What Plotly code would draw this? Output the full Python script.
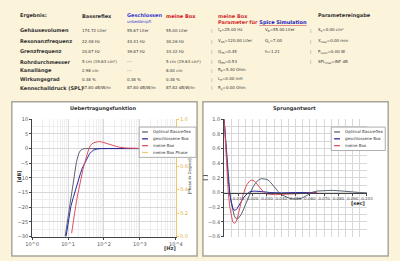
import plotly.graph_objects as go

# ---------------- data ----------------
row_labels = ["Gehäusevolumen", "Resonanzfrequenz", "Grenzfrequenz", "Rohrdurchmesser",
              "Kanallänge", "Wirkungsgrad", "Kennschalldruck (SPL)"]
bassreflex_vals = ["174.72 Liter", "22.48 Hz", "20.87 Hz", "5 cm (19.63 cm²)",
                   "2.98 cm", "0.38 %", "87.80 dB/W/m"]
geschlossen_vals = ["55.67 Liter", "44.41 Hz", "39.87 Hz", "---", "---", "0.38 %", "87.80 dB/W/m"]
meinebox_vals = ["55.00 Liter", "30.26 Hz", "33.32 Hz", "5 cm (19.63 cm²)",
                 "8.00 cm", "0.38 %", "87.82 dB/W/m"]
spice_col1 = ["f<sub>S</sub>=25.00 Hz", "V<sub>AS</sub>=120.00 Liter", "Q<sub>TS</sub>=0.45",
              "Q<sub>ES</sub>=0.53", "R<sub>E</sub>=5.30 Ohm", "L<sub>E</sub>=0.00 mH",
              "R<sub>g</sub>=0.00 Ohm"]
spice_col2 = ["V<sub>B</sub>=55.00 Liter", "Q<sub>L</sub>=7.00", "h=1.21"]
param_col = ["S<sub>d</sub>=0.00 cm²", "X<sub>max</sub>=0.00 mm",
             "P<sub>nenn</sub>=0.00 W", "SPL<sub>max</sub>=INF dB"]

series_names = ["Optimal Bassreflex", "geschlossene Box", "meine Box", "meine Box Phase"]

# frequency response (Hz, dB)
f_opt = [8.3, 9, 10, 11, 12, 13, 14, 15, 16, 17, 18, 19, 20, 22, 25, 30, 50, 100, 300, 1000]
db_opt = [-30, -27, -23.5, -19.5, -16, -13, -10.8, -8.5, -6.5, -4.8, -3.5, -2.4, -1.6, -0.7,
          -0.2, 0, 0, 0, 0, 0]
f_cls = [8.8, 10, 11, 12, 14, 16, 18, 20, 22, 25, 28, 32, 36, 40, 45, 50, 60, 80, 1000]
db_cls = [-30, -25.5, -22.3, -19.7, -16.7, -14.1, -11.8, -9.9, -8.6, -6.6, -5.3, -3.8, -2.4,
          -1.7, -1.1, -0.6, -0.2, 0, 0]
f_my = [12.6, 14, 16, 18, 20, 23.4, 26, 28.8, 32, 35, 38, 42, 46, 52, 60, 70, 85, 100, 136,
        180, 255, 400, 600, 1000]
db_my = [-28.9, -24.5, -20.3, -16.5, -13.5, -10, -7.2, -5, -3, -1.3, 0, 1.0, 1.6, 2.0, 2.3,
         2.4, 2.3, 2.0, 1.5, 1.0, 0.5, 0.2, 0.1, 0.05]

# step response (s, -)
t_opt = [0, 0.001, 0.002, 0.003, 0.004, 0.005, 0.006, 0.007, 0.008, 0.009, 0.010, 0.012, 0.014,
         0.016, 0.018, 0.020, 0.022, 0.024, 0.026, 0.028, 0.030, 0.032, 0.034, 0.036, 0.038,
         0.040, 0.043, 0.046, 0.050, 0.054, 0.058, 0.061, 0.065, 0.070, 0.075, 0.080, 0.085,
         0.090, 0.095, 0.100]
s_opt = [1.0, 0.75, 0.45, 0.2, 0.0, -0.14, -0.24, -0.31, -0.35, -0.36, -0.35, -0.3, -0.21,
         -0.11, -0.01, 0.07, 0.13, 0.17, 0.19, 0.19, 0.18, 0.15, 0.1, 0.05, 0.01, -0.03, -0.06,
         -0.08, -0.09, -0.08, -0.04, 0.0, 0.02, 0.03, 0.03, 0.025, 0.015, 0.005, 0.0, -0.005]
t_cls = [0, 0.001, 0.002, 0.003, 0.004, 0.005, 0.006, 0.007, 0.008, 0.009, 0.010, 0.012, 0.014,
         0.016, 0.018, 0.021, 0.024, 0.028, 0.032, 0.036, 0.040, 0.050, 0.065]
s_cls = [1.0, 0.7, 0.4, 0.15, -0.03, -0.14, -0.21, -0.24, -0.24, -0.22, -0.19, -0.12, -0.06,
         -0.02, 0.01, 0.02, 0.02, 0.01, 0.0, -0.005, -0.005, 0.0, 0.0]
t_my = [0, 0.001, 0.002, 0.003, 0.004, 0.005, 0.006, 0.007, 0.008, 0.009, 0.010, 0.011, 0.012,
        0.013, 0.014, 0.015, 0.016, 0.017, 0.018, 0.019, 0.020, 0.021, 0.022, 0.024, 0.026,
        0.028, 0.030, 0.033, 0.036, 0.040, 0.045, 0.050, 0.055, 0.060, 0.065]
s_my = [1.0, 0.6, 0.25, -0.02, -0.2, -0.33, -0.4, -0.42, -0.41, -0.37, -0.3, -0.22, -0.13,
        -0.05, 0.02, 0.07, 0.11, 0.14, 0.16, 0.17, 0.17, 0.16, 0.14, 0.09, 0.04, 0.0, -0.02,
        -0.03, -0.03, -0.025, -0.02, -0.015, -0.01, -0.01, -0.005]

freq_ticks = [1, 10, 100, 1000, 10000]
freq_ticktext = ["10^0", "10^1", "10^2", "10^3", "10^4"]
time_ticks = [0.01, 0.02, 0.03, 0.04, 0.05, 0.06, 0.07, 0.08, 0.09, 0.10]

# ---------------- style ----------------
W, H = 400, 261
def PX(x): return x / W
def PY(y): return 1 - y / H

C_OPT = "#5b6272"
C_CLS = "#2b2b9c"
C_MY = "#e0505e"
C_PH = "#f0c870"
BG = "#fcf4da"
FONT = "DejaVu Sans"
GRID = "#d8d8d8"
MINOR = "#eeeeee"

fig = go.Figure()
fig.add_trace(go.Scatter(x=f_opt, y=db_opt, mode="lines", line=dict(color=C_OPT, width=1),
                         name=series_names[0], xaxis="x", yaxis="y", showlegend=False))
fig.add_trace(go.Scatter(x=f_cls, y=db_cls, mode="lines", line=dict(color=C_CLS, width=1),
                         name=series_names[1], xaxis="x", yaxis="y", showlegend=False))
fig.add_trace(go.Scatter(x=f_my, y=db_my, mode="lines", line=dict(color=C_MY, width=1),
                         name=series_names[2], xaxis="x", yaxis="y", showlegend=False))
fig.add_trace(go.Scatter(x=[], y=[], mode="lines", line=dict(color=C_PH, width=1),
                         name=series_names[3], xaxis="x", yaxis="y3", showlegend=False))

fig.add_trace(go.Scatter(x=t_opt, y=s_opt, mode="lines", line=dict(color=C_OPT, width=1),
                         name=series_names[0], xaxis="x2", yaxis="y2", showlegend=False))
fig.add_trace(go.Scatter(x=t_cls, y=s_cls, mode="lines", line=dict(color=C_CLS, width=1),
                         name=series_names[1], xaxis="x2", yaxis="y2", showlegend=False))
fig.add_trace(go.Scatter(x=t_my, y=s_my, mode="lines", line=dict(color=C_MY, width=1),
                         name=series_names[2], xaxis="x2", yaxis="y2", showlegend=False))

ydom = [PY(239), PY(119)]
tickfont = dict(family=FONT, size=5, color="#555")
minor_log = [k * 10 ** d for d in range(4) for k in range(2, 10)]

fig.update_layout(
    width=W, height=H, margin=dict(l=0, r=0, t=0, b=0, pad=0),
    paper_bgcolor=BG, plot_bgcolor="white", showlegend=False,
    xaxis=dict(domain=[PX(26), PX(175)], anchor="y", type="log", range=[0, 4],
               tickvals=freq_ticks, ticktext=freq_ticktext, tickfont=tickfont,
               showline=True, linecolor="#444", linewidth=1, ticks="outside", ticklen=2,
               tickcolor="#444", showgrid=True, gridcolor=GRID, gridwidth=0.6,
               minor=dict(tickvals=minor_log, showgrid=True, gridcolor=MINOR, gridwidth=0.5),
               zeroline=False),
    yaxis=dict(domain=ydom, anchor="x", range=[-30, 10], dtick=5, tickfont=tickfont,
               showline=True, linecolor="#444", linewidth=1, ticks="outside", ticklen=2,
               tickcolor="#444", showgrid=True, gridcolor=GRID, gridwidth=0.6,
               minor=dict(dtick=2.5, showgrid=True, gridcolor=MINOR, gridwidth=0.5),
               zeroline=False),
    yaxis3=dict(overlaying="y", anchor="x", side="right", range=[0, 1], dtick=0.2,
                tickformat=".1f", tickfont=dict(family=FONT, size=5, color="#e0b040"),
                showline=True, linecolor=C_PH, linewidth=1, ticks="outside", ticklen=2,
                tickcolor=C_PH, showgrid=False, zeroline=False),
    xaxis2=dict(domain=[PX(225), PX(373)], anchor="free", position=PY(194), range=[0, 0.1],
                tickvals=time_ticks, tickformat=".3f", tickfont=dict(family=FONT, size=4, color="#555"),
                showline=True, linecolor="#444", linewidth=1, ticks="outside", ticklen=2,
                tickcolor="#444", showgrid=True, gridcolor=GRID, gridwidth=0.6,
                minor=dict(dtick=0.005, tick0=0, showgrid=True, gridcolor=GRID, gridwidth=0.6),
                zeroline=False),
    yaxis2=dict(domain=ydom, anchor="x2", range=[-0.6, 1.0], dtick=0.2, tickformat=".1f",
                tickfont=tickfont, showline=True, linecolor="#444", linewidth=1,
                ticks="outside", ticklen=2, tickcolor="#444", showgrid=True, gridcolor=GRID,
                gridwidth=0.6, minor=dict(dtick=0.1, showgrid=True, gridcolor=GRID, gridwidth=0.6),
                zeroline=False),
)

shapes = []
# panels
for (x0, x1) in [(5, 197), (203, 395)]:
    shapes.append(dict(type="rect", xref="paper", yref="paper", x0=PX(x0), x1=PX(x1),
                       y0=PY(259), y1=PY(101), fillcolor="white",
                       line=dict(color="#a8a69a", width=1.5), layer="below"))

annotations = []
def txt(x, y, s, size=4, color="#333", bold=False, anchor="left", angle=0, yanchor="middle"):
    if bold:
        s = "<b>" + s + "</b>"
    annotations.append(dict(x=PX(x), y=PY(y), xref="paper", yref="paper", text=s,
                            showarrow=False, xanchor=anchor, yanchor=yanchor, textangle=angle,
                            font=dict(family=FONT, size=size, color=color)))

# table header
txt(11, 13, "Ergebnis:", size=5, bold=True)
txt(76, 13, "Bassreflex", size=5, bold=True)
txt(122, 12, "Geschlossen", size=5, bold=True, color="#3a3ad0")
txt(122, 19, "unbedämpft", size=4, color="#3a3ad0")
txt(163, 13, "meine Box", size=5, bold=True, color="#d02020")
txt(217, 13, "meine Box", size=5, bold=True, color="#d03030")
txt(217, 20, "Parameter für <u><span style='color:#2020c0'>Spice Simulation</span></u>", size=5,
    bold=True, color="#d03030")
txt(320, 13, "Parametereingabe", size=5, bold=True)

row_y = [28, 39, 50, 60, 69, 78, 87]
for i, y in enumerate(row_y):
    txt(11, y, row_labels[i], size=5, bold=True)
    txt(76, y, bassreflex_vals[i], size=4)
    txt(122, y, geschlossen_vals[i], size=4)
    txt(163, y, meinebox_vals[i], size=4)
    txt(209, y, "|", size=4, color="#777")
    txt(217, y, spice_col1[i], size=4)
    if i < len(spice_col2):
        txt(265, y, spice_col2[i], size=4)
    if i < len(param_col):
        txt(312, y, "|", size=4, color="#777")
        txt(320, y, param_col[i], size=4)

# panel titles and axis titles
txt(100, 108, "Uebertragungsfunktion", size=5, bold=True, anchor="center")
txt(298, 108, "Sprungantwort", size=5, bold=True, anchor="center")
txt(12, 178, "[dB]", size=5, bold=True, anchor="center", angle=-90)
txt(190, 177, "[Phase in Degree]", size=4, anchor="center", angle=-90)
txt(169, 251, "[Hz]", size=5, bold=True, anchor="center")
txt(205, 179, "[ ]", size=5, bold=True, anchor="center", angle=-90)
txt(373, 205, "[sec]", size=5, bold=True, anchor="right")

# legends
def legend(x0, x1, y0, names, colors):
    y1 = y0 + 3 + 7 * len(names)
    shapes.append(dict(type="rect", xref="paper", yref="paper", x0=PX(x0), x1=PX(x1),
                       y0=PY(y1), y1=PY(y0), fillcolor="white",
                       line=dict(color="#999", width=0.8), layer="above"))
    for k, (n, c) in enumerate(zip(names, colors)):
        yy = y0 + 5 + 7 * k
        shapes.append(dict(type="line", xref="paper", yref="paper", x0=PX(x0 + 3),
                           x1=PX(x0 + 9), y0=PY(yy), y1=PY(yy), line=dict(color=c, width=1.3),
                           layer="above"))
        txt(x0 + 12, yy, n, size=4, color="#333")

legend(137, 196, 127, series_names, [C_OPT, C_CLS, C_MY, C_PH])
legend(336, 392, 127, series_names[:3], [C_OPT, C_CLS, C_MY])

fig.update_layout(shapes=shapes, annotations=annotations)
fig.write_html("out.html")
